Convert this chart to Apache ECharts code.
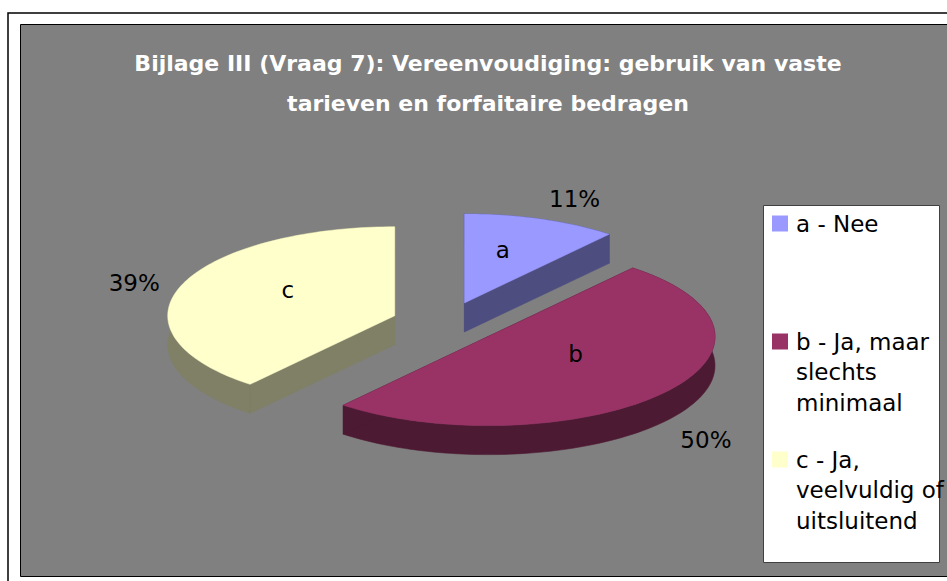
<!DOCTYPE html>
<html>
<head>
<meta charset="utf-8">
<script src="https://cdn.jsdelivr.net/npm/echarts@6/dist/echarts.min.js"></script>
<style>
html,body{margin:0;padding:0;background:#fff;}
#chart{width:947px;height:581px;}
</style>
</head>
<body>
<div id="chart"></div>
<script>
// ---- data ----
const titleText = 'Bijlage III (Vraag 7): Vereenvoudiging: gebruik van vaste\ntarieven en forfaitaire bedragen';
const categories = ['a', 'b', 'c'];
const legendLines = [
  ['a - Nee'],
  ['b - Ja, maar', 'slechts', 'minimaal'],
  ['c - Ja,', 'veelvuldig of', 'uitsluitend']
];
const values = [11, 50, 39];
const topColors = ['#9999FF', '#993366', '#FFFFCC'];
const sideColors = ['#4D4D80', '#4D1A33', '#808066'];

// ---- derived ----
const seriesNames = legendLines.map(l => l.join(' '));
const total = values.reduce((s, v) => s + v, 0);
const cum = [0];
values.forEach((v, i) => cum.push(cum[i] + v));

const FONT = 'DejaVu Sans';
const DEPTH = 29;        // px, thickness of the 3D pie
const EXPLODE = 0.24;    // fraction of radius
const INNER_R = 0.5;
const OUTER_R = 1.1;

function renderSlice(params, api) {
  const i = params.seriesIndex;
  const a0 = cum[i] / total * Math.PI * 2;
  const a1 = cum[i + 1] / total * Math.PI * 2;
  const mid = (a0 + a1) / 2;
  const ox = EXPLODE * Math.sin(mid), oy = EXPLODE * Math.cos(mid);
  const c = api.coord([ox, oy]);
  const arc = [];
  const n = Math.max(6, Math.ceil((a1 - a0) / (Math.PI / 120)));
  for (let k = 0; k <= n; k++) {
    const t = a0 + (a1 - a0) * k / n;
    arc.push(api.coord([ox + Math.sin(t), oy + Math.cos(t)]));
  }
  const shift = p => [p[0], p[1] + DEPTH];
  const sideStyle = { fill: sideColors[i], stroke: sideColors[i], lineWidth: 0.6 };
  const children = [];
  // outer wall (one band polygon)
  children.push({
    type: 'polygon',
    shape: { points: arc.concat(arc.slice().reverse().map(shift)) },
    style: sideStyle
  });
  // radial walls
  const first = arc[0], last = arc[arc.length - 1];
  children.push({ type: 'polygon', shape: { points: [c, first, shift(first), shift(c)] }, style: sideStyle });
  children.push({ type: 'polygon', shape: { points: [c, last, shift(last), shift(c)] }, style: sideStyle });
  // top face
  children.push({
    type: 'polygon',
    shape: { points: [c].concat(arc) },
    style: { fill: topColors[i], stroke: topColors[i], lineWidth: 0.5 }
  });
  // inner category label
  const ip = api.coord([ox + INNER_R * Math.sin(mid), oy + INNER_R * Math.cos(mid)]);
  children.push({
    type: 'text',
    x: ip[0], y: ip[1] - 11,
    style: { text: categories[i], fill: '#000', font: '23px "' + FONT + '"', align: 'center', verticalAlign: 'middle' }
  });
  // outer percent label (placed just outside the rim)
  const s = Math.sin(mid), co = Math.cos(mid);
  const op = api.coord([ox + OUTER_R * s, oy + OUTER_R * co]);
  const pct = Math.round(api.value(0) / total * 100) + '%';
  children.push({
    type: 'text',
    x: op[0], y: op[1] + (co < 0 ? DEPTH : 0),
    style: {
      text: pct, fill: '#000', font: '23px "' + FONT + '"',
      align: s > 0.2 ? 'left' : (s < -0.2 ? 'right' : 'center'),
      verticalAlign: co > 0.5 ? 'bottom' : (co < -0.5 ? 'top' : 'middle')
    }
  });
  return { type: 'group', children };
}

const rich = {
  sp: { width: 8, lineHeight: 30.5 },
  ind: { width: 24, lineHeight: 30.5 },
  t: { fontFamily: FONT, fontSize: 23, color: '#000', lineHeight: 30.5 }
};
topColors.forEach((c, i) => {
  rich['m' + i] = { width: 16, height: 16, backgroundColor: c, lineHeight: 30.5 };
});

const chart = echarts.init(document.getElementById('chart'), null, { renderer: 'svg' });
chart.setOption({
  animation: false,
  backgroundColor: '#fff',
  graphic: [
    { type: 'rect', shape: { x: 8, y: 13, width: 1000, height: 1000 }, style: { fill: '#fff', stroke: '#000', lineWidth: 1.5 }, silent: true },
    { type: 'rect', shape: { x: 20.5, y: 24.5, width: 1000, height: 552 }, style: { fill: '#808080', stroke: '#000', lineWidth: 1 }, silent: true },
    { type: 'rect', shape: { x: 763.5, y: 205.5, width: 176, height: 357 }, style: { fill: '#fff', stroke: '#404040', lineWidth: 1 }, silent: true }
  ],
  title: {
    text: titleText,
    left: 488,
    top: 43,
    padding: 0,
    textAlign: 'center',
    textStyle: { fontFamily: FONT, fontWeight: 'bold', fontSize: 22, color: '#fff', lineHeight: 40 }
  },
  legend: {
    orient: 'vertical',
    left: 767,
    top: 212,
    padding: 0,
    itemGap: 34,
    itemWidth: 0,
    itemHeight: 0,
    icon: 'rect',
    data: seriesNames,
    formatter: function (name) {
      const i = seriesNames.indexOf(name);
      const lines = legendLines[i];
      let s = '{m' + i + '|}{sp|}{t|' + lines[0] + '}';
      for (let k = 1; k < 3; k++) {
        s += '\n{ind|}{t|' + (lines[k] || ' ') + '}';
      }
      return s;
    },
    textStyle: { fontFamily: FONT, fontSize: 23, color: '#000', rich: rich }
  },
  grid: { left: 219, top: 234, width: 454, height: 178 },
  xAxis: { type: 'value', min: -1, max: 1, show: false },
  yAxis: { type: 'value', min: -1, max: 1, show: false },
  series: values.map((v, i) => ({
    type: 'custom',
    name: seriesNames[i],
    coordinateSystem: 'cartesian2d',
    clip: false,
    color: topColors[i],
    renderItem: renderSlice,
    data: [[v]]
  }))
});
</script>
</body>
</html>
